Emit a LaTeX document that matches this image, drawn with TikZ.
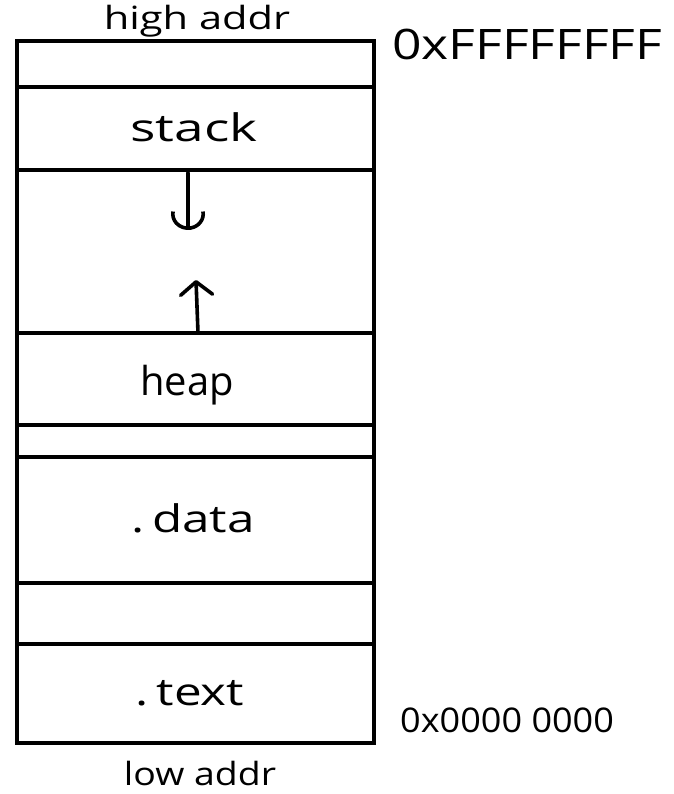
\documentclass[tikz,border=0pt]{standalone}
\usepackage{fontspec}
\setmainfont{Open Sans}
\usetikzlibrary{arrows.meta}
\begin{document}
\begin{tikzpicture}[x=1pt,y=-1pt,
  rule/.style={line width=3.2pt},
  lbl/.style={font=\fontsize{38}{42}\selectfont, inner sep=0pt, anchor=base},
  addr/.style={font=\fontsize{32}{36}\selectfont, inner sep=0pt, anchor=base},
  downarrow/.style={line width=3.6pt, line cap=round, -{Arc Barb[arc=200,length=16pt,width=34pt]}},
  uparrow/.style={line width=3.6pt, line cap=round, -{Straight Barb[length=13pt,width=32pt,round]}}]
\useasboundingbox (0,0) rectangle (673,794);
% outer box
\draw[rule] (17,41) rectangle (374,743);
% dividers
\coordinate (l1) at (17,87);  \coordinate (r1) at (374,87);
\coordinate (l2) at (17,170); \coordinate (r2) at (374,170);
\coordinate (l3) at (17,333); \coordinate (r3) at (374,333);
\coordinate (l4) at (17,425); \coordinate (r4) at (374,425);
\coordinate (l5) at (17,457); \coordinate (r5) at (374,457);
\coordinate (l6) at (17,583); \coordinate (r6) at (374,583);
\coordinate (l7) at (17,644); \coordinate (r7) at (374,644);
\foreach \i in {1,...,7} {\draw[rule] (l\i) -- (r\i);}
% labels
\node[lbl] (stack) at (194,142) {\scalebox{1.4}[1]{stack}};
\node[lbl] (heap) at (187,395) {\scalebox{1.05}[1.05]{heap}};
\node[lbl] (data) at (193,532) {\scalebox{1.3}[1]{.\hspace{6pt}data}};
\node[lbl] (text) at (190,705) {\scalebox{1.3}[1]{.\hspace{6pt}text}};
\node[addr] (high) at (197,30) {\scalebox{1.3}[1]{high addr}};
\node[addr] (low) at (200,785) {\scalebox{1.17}[1]{low addr}};
\node[font=\fontsize{42}{46}\selectfont, inner sep=0pt, anchor=base west] (ffff) at (392,60) {\scalebox{1.23}[1]{0xFFFFFFFF}};
\node[font=\fontsize{34}{38}\selectfont, inner sep=0pt, anchor=base west] (zero) at (400,732) {\scalebox{1.06}[1]{0x0000 0000}};
% growth arrows
\coordinate (sa) at (188,173);
\coordinate (sb) at (188,230);
\coordinate (ha) at (198,333);
\coordinate (hb) at (196,280);
\draw[downarrow] (sa) -- (sb);
\draw[uparrow] (ha) -- (hb);
\end{tikzpicture}
\end{document}
